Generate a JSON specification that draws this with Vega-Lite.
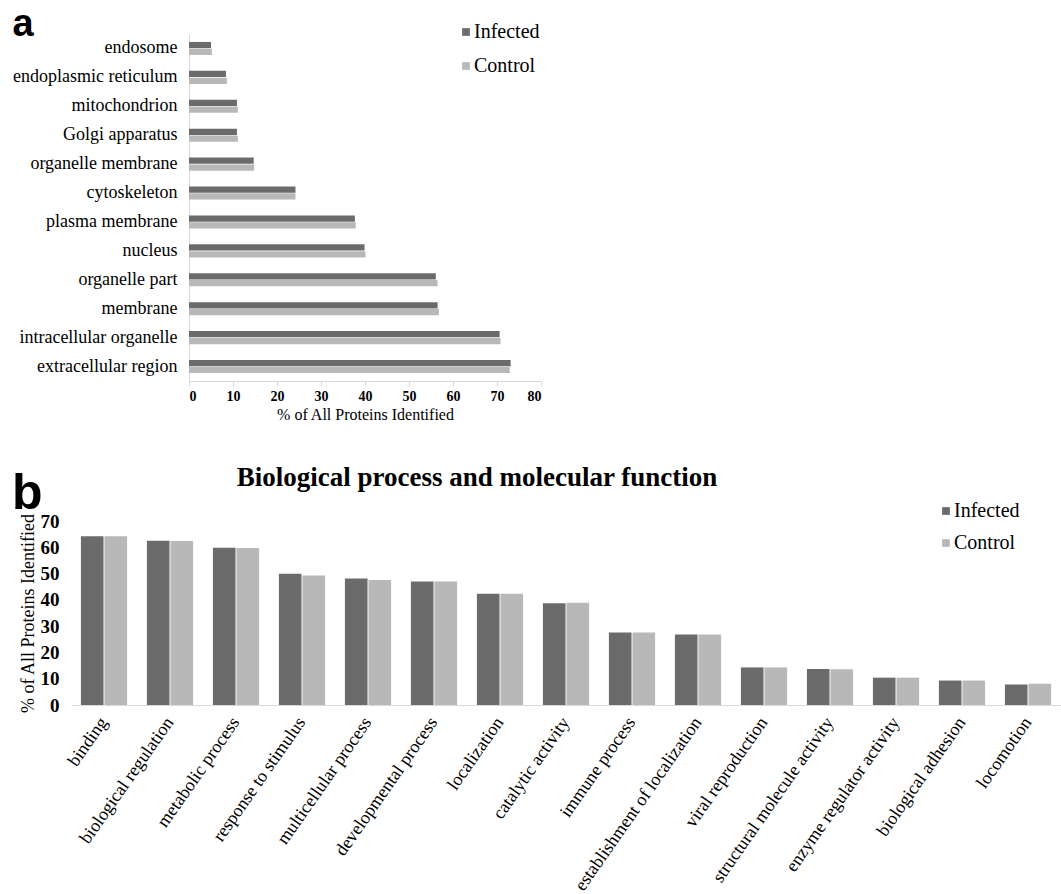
{
  "$schema": "https://vega.github.io/schema/vega-lite/v6.json",
  "background": "white",
  "padding": {"left": 12, "top": 6, "right": 0, "bottom": 0},
  "config": {
    "font": "Liberation Serif",
    "view": {"stroke": null},
    "axis": {"labelColor": "#000", "titleColor": "#000", "labelFont": "Liberation Serif", "titleFont": "Liberation Serif"},
    "legend": {"labelColor": "#000", "labelFont": "Liberation Serif"},
    "title": {"color": "#000"}
  },
  "datasets": {
    "cellular": [
      {"component": "endosome", "group": "Infected", "value": 5.0},
      {"component": "endosome", "group": "Control", "value": 5.2},
      {"component": "endoplasmic reticulum", "group": "Infected", "value": 8.4},
      {"component": "endoplasmic reticulum", "group": "Control", "value": 8.6},
      {"component": "mitochondrion", "group": "Infected", "value": 10.9},
      {"component": "mitochondrion", "group": "Control", "value": 11.1},
      {"component": "Golgi apparatus", "group": "Infected", "value": 10.9},
      {"component": "Golgi apparatus", "group": "Control", "value": 11.1},
      {"component": "organelle membrane", "group": "Infected", "value": 14.7},
      {"component": "organelle membrane", "group": "Control", "value": 14.8},
      {"component": "cytoskeleton", "group": "Infected", "value": 24.2},
      {"component": "cytoskeleton", "group": "Control", "value": 24.2},
      {"component": "plasma membrane", "group": "Infected", "value": 37.7},
      {"component": "plasma membrane", "group": "Control", "value": 37.9},
      {"component": "nucleus", "group": "Infected", "value": 39.9},
      {"component": "nucleus", "group": "Control", "value": 40.1},
      {"component": "organelle part", "group": "Infected", "value": 56.1},
      {"component": "organelle part", "group": "Control", "value": 56.5},
      {"component": "membrane", "group": "Infected", "value": 56.5},
      {"component": "membrane", "group": "Control", "value": 56.8},
      {"component": "intracellular organelle", "group": "Infected", "value": 70.6},
      {"component": "intracellular organelle", "group": "Control", "value": 70.8},
      {"component": "extracellular region", "group": "Infected", "value": 73.1},
      {"component": "extracellular region", "group": "Control", "value": 72.9}
    ],
    "process": [
      {"category": "binding", "group": "Infected", "value": 64.2},
      {"category": "binding", "group": "Control", "value": 64.2},
      {"category": "biological regulation", "group": "Infected", "value": 62.5},
      {"category": "biological regulation", "group": "Control", "value": 62.4},
      {"category": "metabolic process", "group": "Infected", "value": 59.8},
      {"category": "metabolic process", "group": "Control", "value": 59.7},
      {"category": "response to stimulus", "group": "Infected", "value": 49.9},
      {"category": "response to stimulus", "group": "Control", "value": 49.3},
      {"category": "multicellular process", "group": "Infected", "value": 48.1},
      {"category": "multicellular process", "group": "Control", "value": 47.6},
      {"category": "developmental process", "group": "Infected", "value": 47.0},
      {"category": "developmental process", "group": "Control", "value": 47.0},
      {"category": "localization", "group": "Infected", "value": 42.3},
      {"category": "localization", "group": "Control", "value": 42.3},
      {"category": "catalytic activity", "group": "Infected", "value": 38.7},
      {"category": "catalytic activity", "group": "Control", "value": 38.9},
      {"category": "immune process", "group": "Infected", "value": 27.6},
      {"category": "immune process", "group": "Control", "value": 27.6},
      {"category": "establishment of localization", "group": "Infected", "value": 26.8},
      {"category": "establishment of localization", "group": "Control", "value": 26.8},
      {"category": "viral reproduction", "group": "Infected", "value": 14.3},
      {"category": "viral reproduction", "group": "Control", "value": 14.3},
      {"category": "structural molecule activity", "group": "Infected", "value": 13.7},
      {"category": "structural molecule activity", "group": "Control", "value": 13.6},
      {"category": "enzyme regulator activity", "group": "Infected", "value": 10.4},
      {"category": "enzyme regulator activity", "group": "Control", "value": 10.4},
      {"category": "biological adhesion", "group": "Infected", "value": 9.3},
      {"category": "biological adhesion", "group": "Control", "value": 9.3},
      {"category": "locomotion", "group": "Infected", "value": 7.8},
      {"category": "locomotion", "group": "Control", "value": 8.1}
    ]
  },
  "spacing": 42,
  "resolve": {"scale": {"color": "independent", "x": "independent", "y": "independent"}, "legend": {"color": "independent"}},
  "vconcat": [
    {
      "width": 470,
      "height": 347,
      "title": {"text": "a", "anchor": "start", "frame": "bounds", "font": "Liberation Sans", "fontSize": 38, "fontWeight": "bold", "offset": -18, "dy": 4},
      "data": {"name": "cellular"},
      "mark": {"type": "bar"},
      "encoding": {
        "y": {
          "field": "component", "type": "nominal", "sort": null,
          "scale": {"paddingInner": 0.55, "paddingOuter": 0.275},
          "axis": {"title": null, "labelFontSize": 18, "ticks": false, "labelPadding": 12, "domainColor": "#d9d9d9", "offset": -118}
        },
        "yOffset": {"field": "group", "type": "nominal", "sort": ["Infected", "Control"], "scale": {"paddingInner": 0.08}},
        "x": {
          "field": "value", "type": "quantitative",
          "scale": {"domain": [0, 80], "nice": false, "range": [118, 470]},
          "axis": {"title": "% of All Proteins Identified", "values": [0, 10, 20, 30, 40, 50, 60, 70, 80], "grid": false,
                   "labelFontSize": 14, "labelFontWeight": "bold", "titleFontSize": 16, "titleFontWeight": "normal",
                   "domainColor": "#d9d9d9", "tickColor": "#d9d9d9", "tickSize": 5, "labelPadding": 3, "titlePadding": 3}
        },
        "color": {
          "field": "group", "type": "nominal",
          "scale": {"domain": ["Infected", "Control"], "range": ["#6b6b6b", "#b8b8b8"]},
          "legend": {"title": null, "orient": "none", "legendX": 385, "legendY": -12, "labelFontSize": 20, "symbolType": "square",
                     "symbolSize": 60, "symbolStrokeWidth": 0, "rowPadding": 14, "labelOffset": -2}
        }
      }
    },
    {
      "title": {"text": "b", "anchor": "start", "frame": "bounds", "font": "Liberation Sans", "fontSize": 50, "fontWeight": "bold", "dy": 59, "dx": -7},
      "vconcat": [
        {
          "width": 990,
          "height": 184,
          "title": {"text": "Biological process and molecular function", "font": "Liberation Serif", "fontSize": 27, "fontWeight": "bold", "frame": "group", "dx": -89, "offset": 20},
          "data": {"name": "process"},
          "mark": {"type": "bar"},
          "encoding": {
            "x": {
              "field": "category", "type": "nominal", "sort": null,
              "scale": {"paddingInner": 0.3, "paddingOuter": 0.15},
              "axis": {"title": null, "labelAngle": -55, "labelFontSize": 18, "labelLimit": 0, "ticks": false, "labelPadding": 14, "domainColor": "#d9d9d9"}
            },
            "xOffset": {"field": "group", "type": "nominal", "sort": ["Infected", "Control"], "scale": {"paddingInner": 0.04}},
            "y": {
              "field": "value", "type": "quantitative",
              "scale": {"domain": [0, 70], "nice": false},
              "axis": {"title": "% of All Proteins Identified", "values": [0, 10, 20, 30, 40, 50, 60, 70], "grid": false, "domain": false, "ticks": false,
                       "labelFontSize": 19, "labelFontWeight": "bold", "labelPadding": 12, "titleFontSize": 18, "titleFontWeight": "normal", "titlePadding": 3}
            },
            "color": {
              "field": "group", "type": "nominal",
              "scale": {"domain": ["Infected", "Control"], "range": ["#6b6b6b", "#b8b8b8"]},
              "legend": {"title": null, "orient": "none", "legendX": 865, "legendY": -20, "labelFontSize": 20, "symbolType": "square",
                         "symbolSize": 60, "symbolStrokeWidth": 0, "rowPadding": 12, "labelOffset": -2}
            }
          }
        }
      ]
    }
  ]
}
